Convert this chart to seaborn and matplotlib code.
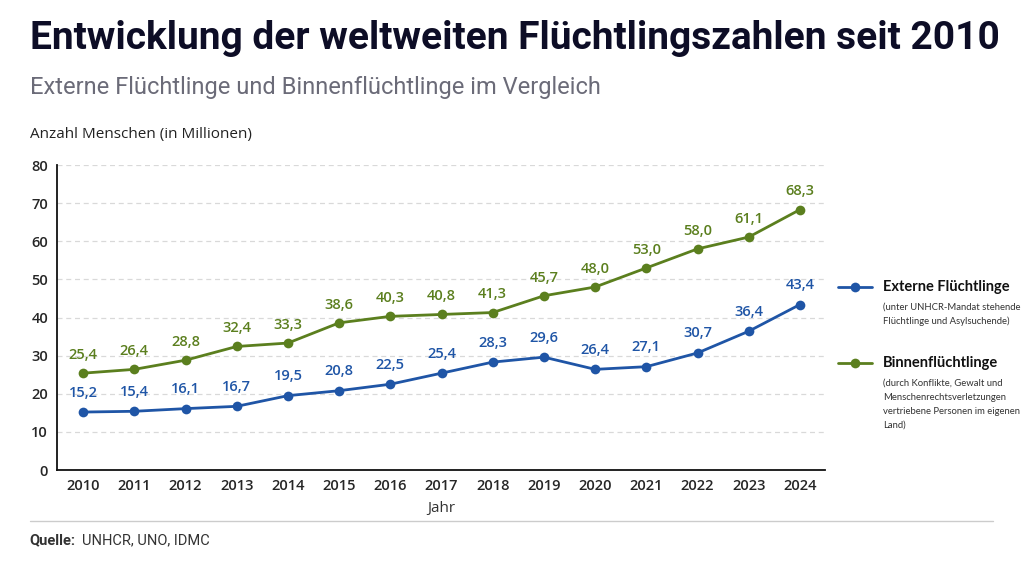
import matplotlib
matplotlib.use("Agg")
import matplotlib.pyplot as plt
from matplotlib.lines import Line2D
import seaborn as sns
import pandas as pd

sns.set_style("white")
plt.rcParams['font.family'] = ['Open Sans', 'DejaVu Sans']

years = list(range(2010, 2025))
externe = [15.2, 15.4, 16.1, 16.7, 19.5, 20.8, 22.5, 25.4, 28.3, 29.6, 26.4, 27.1, 30.7, 36.4, 43.4]
binnen = [25.4, 26.4, 28.8, 32.4, 33.3, 38.6, 40.3, 40.8, 41.3, 45.7, 48.0, 53.0, 58.0, 61.1, 68.3]

blue = "#1f55a6"
green = "#5b7f1e"

df = pd.DataFrame({"Jahr": years, "Externe": externe, "Binnen": binnen})

fig = plt.figure(figsize=(10.24, 5.62), dpi=100)
ax = fig.add_axes([0.0557, 0.1637, 0.75, 0.5427])

sns.lineplot(data=df, x="Jahr", y="Binnen", ax=ax, color=green, lw=2, marker="o",
             markersize=7, markeredgewidth=0)
sns.lineplot(data=df, x="Jahr", y="Externe", ax=ax, color=blue, lw=2, marker="o",
             markersize=7, markeredgewidth=0)

for x, v in zip(years, binnen):
    ax.annotate(f"{v:.1f}".replace(".", ","), (x, v), xytext=(0, 8), textcoords="offset points",
                ha="center", va="bottom", color=green, fontsize=10.5, fontweight="semibold")
for x, v in zip(years, externe):
    ax.annotate(f"{v:.1f}".replace(".", ","), (x, v), xytext=(0, 9), textcoords="offset points",
                ha="center", va="bottom", color=blue, fontsize=10.5, fontweight="semibold")

ax.set_xlim(2009.49, 2024.49)
ax.set_ylim(0, 80)
ax.set_xticks(years)
ax.set_yticks(range(0, 81, 10))
ax.tick_params(axis="both", labelsize=10.5, length=3, color="#999999")
for lab in ax.get_xticklabels() + ax.get_yticklabels():
    lab.set_fontweight("semibold")
ax.grid(axis="y", ls=(0, (4, 3)), color="#d9d9d9", lw=0.9)
ax.set_axisbelow(True)
for s in ["top", "right"]:
    ax.spines[s].set_visible(False)
ax.spines["left"].set_color("#111111")
ax.spines["bottom"].set_color("#111111")
ax.spines["left"].set_linewidth(1.3)
ax.spines["bottom"].set_linewidth(1.3)
ax.set_xlabel("Jahr", fontsize=11, color="#333333", labelpad=6)
ax.set_ylabel("")

fig.text(0.029, 0.965, "Entwicklung der weltweiten Flüchtlingszahlen seit 2010",
         fontsize=28, fontweight="bold", color="#0d0d26", va="top",
         family=["Roboto", "DejaVu Sans"])
fig.text(0.029, 0.845, "Externe Flüchtlinge und Binnenflüchtlinge im Vergleich",
         fontsize=17, color="#6b6b78", va="center",
         family=["Roboto", "DejaVu Sans"])
fig.text(0.029, 0.76, "Anzahl Menschen (in Millionen)", fontsize=11, color="#222222", va="center")

# legend
for ly, col in [(0.49, blue), (0.354, green)]:
    fig.lines.append(Line2D([0.818, 0.852], [ly, ly], transform=fig.transFigure, color=col, lw=2))
    fig.lines.append(Line2D([0.835], [ly], transform=fig.transFigure, color=col, marker="o",
                            markersize=7, markeredgewidth=0))
lg = ["Lato", "DejaVu Sans"]
fig.text(0.862, 0.49, "Externe Flüchtlinge", fontsize=10.5, fontweight="bold",
         color="#111111", va="center", family=lg)
fig.text(0.862, 0.462, "(unter UNHCR-Mandat stehende\nFlüchtlinge und Asylsuchende)",
         fontsize=6.8, color="#333333", va="top", linespacing=1.7, family=lg)
fig.text(0.862, 0.354, "Binnenflüchtlinge", fontsize=10.5, fontweight="bold",
         color="#111111", va="center", family=lg)
fig.text(0.862, 0.326, "(durch Konflikte, Gewalt und\nMenschenrechtsverletzungen\nvertriebene Personen im eigenen\nLand)",
         fontsize=6.8, color="#333333", va="top", linespacing=1.7, family=lg)

fig.lines.append(Line2D([0.029, 0.97], [0.073, 0.073], transform=fig.transFigure,
                        color="#cccccc", lw=1))
fig.text(0.029, 0.039, "Quelle:", fontsize=10.5, fontweight="bold", color="#333333", va="center",
         family=["Roboto", "DejaVu Sans"])
fig.text(0.08, 0.039, "UNHCR, UNO, IDMC", fontsize=10.5, color="#333333", va="center",
         family=["Roboto", "DejaVu Sans"])

fig.savefig("out.png", dpi=100)
